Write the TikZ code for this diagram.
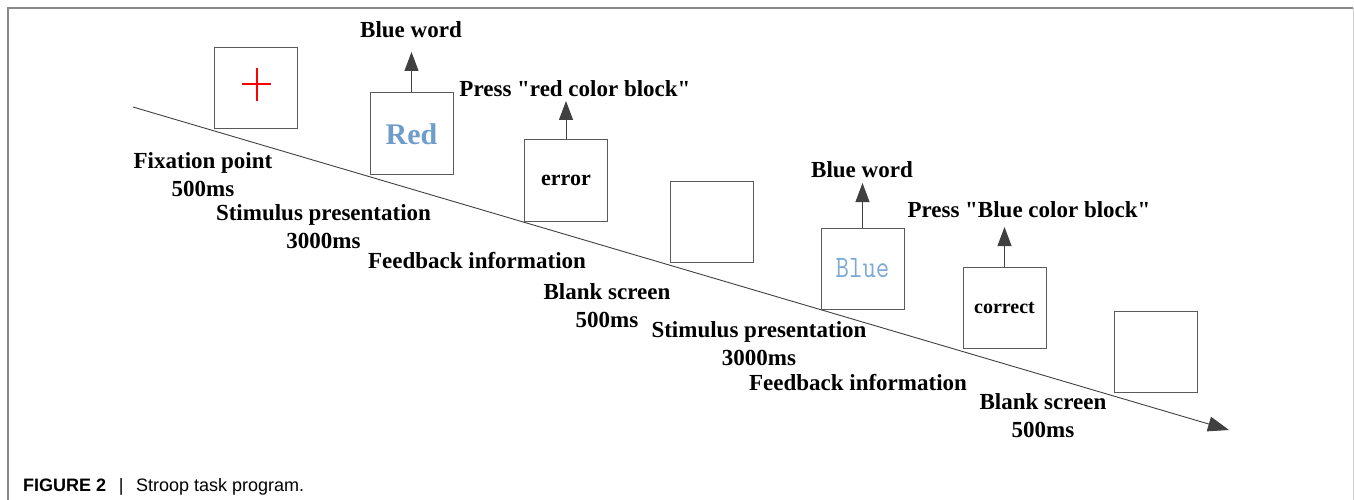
\documentclass[tikz,border=0pt]{standalone}
\usepackage{fontspec}
\setmainfont{Liberation Serif}[Ligatures=TeXOff]
\newfontfamily\capfont{Liberation Sans}
\usetikzlibrary{arrows.meta}
\definecolor{boxgray}{HTML}{5A5A5A}
\definecolor{arrgray}{HTML}{404040}
\definecolor{redword}{HTML}{6F9DCB}
\definecolor{blueword}{HTML}{7BA9D6}
\definecolor{framegray}{HTML}{8A8A8A}
\tikzset{
  screen/.style={draw=boxgray, line width=1pt, minimum width=83pt, minimum height=81pt, inner sep=0pt},
  lbl/.style={anchor=base, inner sep=0pt, font=\fontsize{23}{27}\selectfont\bfseries},
  upar/.style={draw=arrgray, line width=1pt, -{Triangle[length=19pt,width=14pt]}},
}
\begin{document}
\begin{tikzpicture}[x=1pt,y=-1pt]
\useasboundingbox (0,0) rectangle (1354,500);
% frame
\draw[framegray, line width=1.2pt] (8,500) -- (8,8) -- (1353,8);
\draw[gray!40, line width=1pt] (1353,8) -- (1353,500);
% timeline
\coordinate (ls) at (133,107);
\coordinate (le) at (1229,430);
\draw[arrgray, line width=0.9pt, -{Triangle[length=21pt,width=15pt]}] (ls) -- (le);
% screens
\node[screen] (b1) at (256,88.5) {};
\node[screen] (b2) at (411.5,133.5) {};
\node[screen] (b3) at (566,180.5) {};
\node[screen] (b4) at (712,222) {};
\node[screen] (b5) at (862.5,268.5) {};
\node[screen] (b6) at (1004.5,307.5) {};
\node[screen] (b7) at (1156,351.5) {};
% fixation cross
\draw[red, line width=2pt] (242,84) -- (271,84) (256.5,68) -- (256.5,101);
% screen contents
\node[font=\fontsize{30}{34}\selectfont\bfseries, text=redword] (tRed) at (411.5,134) {Red};
\node[font=\fontsize{22}{26}\selectfont\bfseries] (tErr) at (566,180) {error};
\node[font=\ttfamily\fontsize{26}{30}\selectfont, text=blueword] (tBlue) at (862.5,268) {\scalebox{1}[1.2]{Blue}};
\node[font=\fontsize{20}{24}\selectfont\bfseries] (tCor) at (1004.5,308) {correct};
% response arrows
\coordinate (a2) at (411.5,52);
\coordinate (a3) at (566,101);
\coordinate (a5) at (862.5,183);
\coordinate (a6) at (1004.5,227);
\draw[upar] (b2.north) -- (a2);
\draw[upar] (b3.north) -- (a3);
\draw[upar] (b5.north) -- (a5);
\draw[upar] (b6.north) -- (a6);
% labels above
\node[lbl] (u1) at (411,38) {Blue word};
\node[lbl] (u2) at (575,97) {Press "red color block"};
\node[lbl] (u3) at (862,177) {Blue word};
\node[lbl] (u4) at (1029,217) {Press "Blue color block"};
% labels below
\node[lbl] (l1) at (203,168) {Fixation point};
\node[lbl] (l1b) at (203,196) {500ms};
\node[lbl] (l2) at (323.5,220) {Stimulus presentation};
\node[lbl] (l2b) at (323.5,248) {3000ms};
\node[lbl] (l3) at (477,268) {Feedback information};
\node[lbl] (l4) at (607,299) {Blank screen};
\node[lbl] (l4b) at (607,327) {500ms};
\node[lbl] (l5) at (759,337) {Stimulus presentation};
\node[lbl] (l5b) at (759,365) {3000ms};
\node[lbl] (l6) at (858,390) {Feedback information};
\node[lbl] (l7) at (1043,409) {Blank screen};
\node[lbl] (l7b) at (1043,437) {500ms};
% caption
\node[anchor=base west, inner sep=0pt, font=\capfont\fontsize{18}{21}\selectfont] (cap) at (23,491) {\textbf{FIGURE 2}\hspace{0.7em}|\hspace{0.7em}Stroop task program.};
\end{tikzpicture}
\end{document}
